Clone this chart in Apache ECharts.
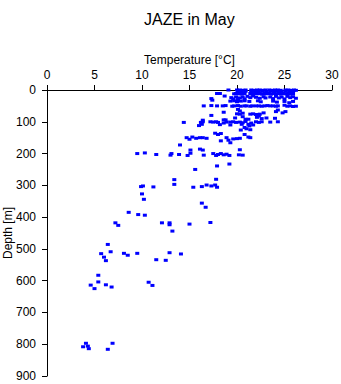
<!DOCTYPE html>
<html>
<head>
<meta charset="utf-8">
<title>JAZE in May</title>
<script src="https://cdn.jsdelivr.net/npm/echarts@6/dist/echarts.min.js"></script>
<style>
  html, body { margin: 0; padding: 0; background: #fff; }
  #chart { width: 341px; height: 384px; }
</style>
</head>
<body>
<div id="chart"></div>
<script>
// CTD casts, May: [temperature °C, depth m]
const surfaceLayer = [
  [19.1,0],[20.0,0],[20.3,0],[20.6,1],[20.9,0],[21.5,0],[21.8,1],[22.1,0],[22.4,0],[22.7,1],[23.0,0],[23.4,0],[23.7,1],[24.0,0],[24.3,0],[24.6,1],[25.1,0],[25.4,0],[25.7,1],[26.0,0],[26.2,1],
  [20.1,4],[20.5,5],[20.9,4],[21.5,5],[21.9,4],[22.3,5],[22.7,4],[23.1,5],[23.5,4],[23.9,5],[24.3,4],[24.7,5],[25.1,4],[25.5,5],[25.9,4],
  [17.9,11],[18.2,11],[19.7,12],[19.9,11],[20.1,12],[20.3,11],[20.5,13],[20.8,11],[21.4,11],[21.6,13],[21.9,11],[22.1,12],[22.4,11],[22.6,13],[22.9,11],[23.1,12],[23.4,11],[23.6,13],[23.9,11],[24.1,12],[24.4,11],[24.6,13],[24.9,11],[25.1,12],[25.4,11],[25.6,13],[25.9,11],
  [18.7,19],[19.4,24],[19.6,28],[19.9,22],[20.1,30],[20.3,25],[20.6,22],[20.8,28],[21.1,20],[21.4,24],[21.7,19],[22.0,23],[22.4,26],[22.8,21],[23.0,25],[23.5,22],[23.8,27],[24.1,20],[24.4,25],[24.7,22],[25.0,28],[25.3,20],[25.6,24],[25.9,21],[26.2,26],
  [17.3,27],[17.4,32],[19.3,35],[19.7,34],[20.0,37],[20.4,35],[20.8,34],[21.3,36],[22.2,34],[22.5,37],[23.8,35],[24.2,38],[25.0,36],[25.5,40],[25.9,36]
];

const mixedLayer = [
  [16.5,50],[17.3,49],[17.9,50],[18.5,50],[18.8,49],[19.5,51],[19.7,50],[20.1,49],[20.4,51],[20.8,50],[21.0,50],[21.4,51],[21.6,50],[22.0,50],[22.3,50],[22.6,51],[22.9,50],[23.2,49],[23.5,50],[23.8,50],[24.1,51],[24.3,50],[25.0,48],[25.3,51],[25.6,50],[25.9,52],[26.2,51],
  [20.1,61],[20.3,66],[24.3,63],[25.1,68],[18.6,70],[20.0,75],[20.3,76],[20.6,73],[21.4,76],[21.7,75],[22.0,77],[22.4,76],[22.8,72],[24.1,68],[24.8,72],
  [17.3,80],[22.3,82],[20.6,84],[19.8,88],[20.9,92],[22.1,86],[22.6,90],[23.1,88],[24.0,89],[21.2,92],[16.4,95],[18.6,94],[18.8,94],
  [14.4,102],[16.2,102],[16.4,100],[17.2,100],[17.5,101],[17.8,100],[18.0,102],[18.6,104],[18.9,101],[19.3,101],[19.6,100],[19.9,102],[20.3,101],[20.6,103],[20.9,99],[21.2,108],[21.5,104],[22.0,100],[22.3,102],[22.6,100],[23.5,101],[24.3,100],
  [16.0,112],[16.3,108],[18.2,109],[19.3,110],[20.5,108],[20.8,118],[21.3,113],[21.7,110],[20.4,126],[21.0,122],[21.4,125],[17.7,136],[18.0,140],[18.3,137],[20.8,140]
];

const thermocline = [
  [14.7,150],[15.0,155],[15.3,148],[15.7,152],[16.1,150],[16.4,150],[16.8,152],[18.3,160],[18.9,150],[19.1,158],[19.3,166],[19.6,154],[20.0,153],[20.3,152],[21.2,148],[21.4,150],
  [14.0,173],[15.1,189],[16.1,186],[16.4,189],[20.3,188],
  [9.5,200],[10.3,198],[11.5,203],
  [13.1,200],[13.0,205],[13.9,203],[14.8,206],[15.1,199],[16.5,205],[17.5,200],[17.8,206],[18.0,203],[18.3,200],[18.6,204],[18.9,202],[19.2,206],[20.2,204],[20.6,205],
  [19.2,233],[17.9,239],[15.6,250],[13.4,282],[17.8,281],[13.4,297],
  [9.9,304],[10.1,302],[11.2,305],[15.4,306],[16.3,304],[16.8,299],[17.3,302],[17.7,299],[17.9,306],
  [10.0,327],[10.2,344],[16.3,356],[16.7,369],[8.6,385],[9.6,392],[10.3,394],
  [7.2,418],[7.5,426],[12.1,418],[12.9,418],[12.9,424],[15.0,422],[17.2,417],[13.2,444]
];

const deepLayer = [
  [6.4,486],[5.7,515],[6.0,526],[6.2,537],[6.7,509],[8.1,514],[8.5,520],[9.5,514],[11.5,534],[12.5,536],[12.9,512],[14.1,516],
  [5.4,583],[5.4,604],[4.6,614],[5.0,625],[6.2,613],[6.8,620],[10.7,605],[11.1,615],
  [3.8,808],[4.1,797],[4.3,806],[4.4,814],[6.4,816],[6.9,797]
];

const FONT = 'Liberation Sans, Arial, Helvetica, sans-serif';
const chart = echarts.init(document.getElementById('chart'), null, { renderer: 'svg' });

const axisCommon = {
  axisLine: { show: true, onZero: false, lineStyle: { color: '#000', width: 1 } },
  axisTick: { show: true, inside: false, length: 5, lineStyle: { color: '#000', width: 1 } },
  axisLabel: { color: '#000', fontSize: 12, fontFamily: FONT },
  splitLine: { show: false },
  nameMoveOverlap: false,
  nameTextStyle: { color: '#000', fontSize: 12, fontFamily: FONT }
};

chart.setOption({
  animation: false,
  backgroundColor: '#fff',
  graphic: [{
    type: 'text',
    left: 144,
    top: 11,
    style: { text: 'JAZE in May', fill: '#000', font: '16px ' + FONT }
  }],
  grid: { left: 47, right: 9, top: 90, bottom: 8, containLabel: false, outerBoundsMode: 'none' },
  xAxis: Object.assign({}, axisCommon, {
    type: 'value',
    position: 'top',
    min: 0, max: 30, interval: 5,
    name: 'Temperature [°C]',
    nameLocation: 'middle',
    nameGap: 24,
    axisLabel: Object.assign({}, axisCommon.axisLabel, { margin: 9 })
  }),
  yAxis: Object.assign({}, axisCommon, {
    type: 'value',
    inverse: true,
    min: 0, max: 900, interval: 100,
    name: 'Depth [m]',
    nameLocation: 'middle',
    nameGap: 33,
    axisLabel: Object.assign({}, axisCommon.axisLabel, { margin: 11 })
  }),
  series: [surfaceLayer, mixedLayer, thermocline, deepLayer].map(data => ({
    type: 'scatter',
    data: data,
    symbol: 'rect',
    symbolSize: [4, 3],
    itemStyle: { color: '#0000ff', opacity: 1 },
    emphasis: { disabled: true }
  }))
});
</script>
</body>
</html>
